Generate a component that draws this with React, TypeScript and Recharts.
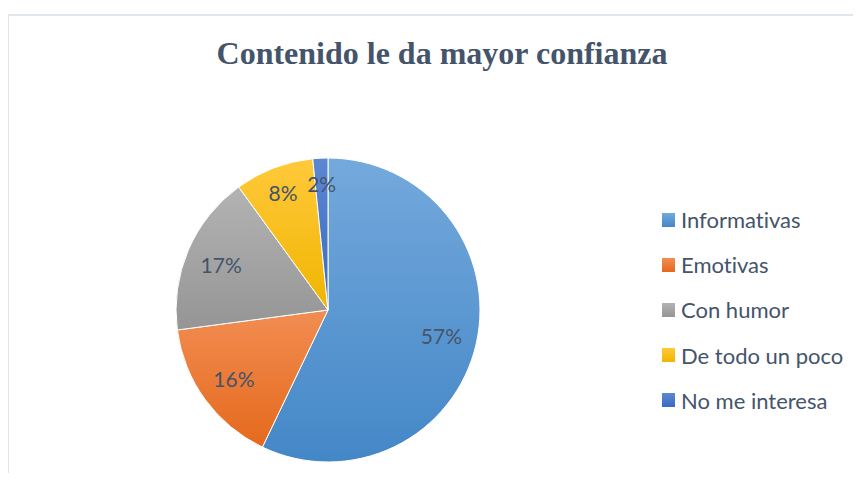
import { PieChart, Pie, Cell, Legend } from 'recharts';

// survey shares (percent)
const categories = ['Informativas', 'Emotivas', 'Con humor', 'De todo un poco', 'No me interesa'];
const shares = [57.1, 15.8, 17.1, 8.4, 1.6];

// top / bottom shades of each slice gradient
const topColors = ['#74a9dc', '#f18d52', '#b3b3b3', '#ffc93a', '#5d87d1'];
const bottomColors = ['#4487c7', '#e5691c', '#959595', '#f0b500', '#396ac1'];

const data = categories.map((name, i) => ({ name, value: shares[i] }));

const TEXT = '#44546A';
const FONT = 'Lato, "Open Sans", sans-serif';

const RADIAN = Math.PI / 180;

function renderLabel(props: any) {
  const { cx, cy, midAngle, outerRadius, percent } = props;
  const r = outerRadius * (percent < 0.1 ? 0.83 : 0.765);
  const x = cx + r * Math.cos(-midAngle * RADIAN);
  const y = cy + r * Math.sin(-midAngle * RADIAN);
  return (
    <text
      x={x}
      y={y}
      fill={TEXT}
      textAnchor="middle"
      dominantBaseline="central"
      style={{ fontFamily: FONT, fontSize: 21 }}
    >
      {`${Math.round(percent * 100)}%`}
    </text>
  );
}

function LegendBox() {
  return (
    <div style={{ fontFamily: FONT, fontVariantLigatures: 'none' }}>
      {categories.map((name, i) => (
        <div
          key={name}
          style={{ display: 'flex', alignItems: 'center', height: 45.2 }}
        >
          <span
            style={{
              display: 'inline-block',
              width: 13,
              height: 14,
              marginRight: 6,
              background: `linear-gradient(${topColors[i]}, ${bottomColors[i]})`,
            }}
          />
          <span style={{ fontSize: 22, color: TEXT }}>{name}</span>
        </div>
      ))}
    </div>
  );
}

export default function App() {
  return (
    <div
      style={{
        position: 'relative',
        width: 861,
        height: 481,
        margin: -8,
        overflow: 'hidden',
        background: '#fff',
      }}
    >
      <div
        style={{
          position: 'absolute',
          left: 7,
          top: 14,
          width: 900,
          height: 500,
          borderTop: '2px solid #e1e6ec',
          borderLeft: '2px solid #e1e6ec',
        }}
      />
      <div
        style={{
          position: 'absolute',
          left: 0,
          top: 37,
          width: 884,
          textAlign: 'center',
          fontFamily: '"Liberation Serif", "Times New Roman", serif',
          fontWeight: 'bold',
          fontSize: 32,
          lineHeight: '32px',
          color: TEXT,
        }}
      >
        Contenido le da mayor confianza
      </div>
      <div style={{ position: 'absolute', left: 0, top: 0 }}>
        <PieChart width={861} height={481} margin={{ top: 0, right: 0, bottom: 0, left: 0 }}>
          <defs>
            {categories.map((name, i) => (
              <linearGradient key={name} id={`grad${i}`} x1="0" y1="0" x2="0" y2="1">
                <stop offset="0%" stopColor={topColors[i]} />
                <stop offset="100%" stopColor={bottomColors[i]} />
              </linearGradient>
            ))}
          </defs>
          <Pie
            data={data}
            dataKey="value"
            nameKey="name"
            cx={328}
            cy={310}
            outerRadius={152}
            startAngle={90}
            endAngle={-270}
            stroke="#ffffff"
            strokeWidth={1}
            label={renderLabel}
            labelLine={false}
            isAnimationActive={false}
          >
            {data.map((d, i) => (
              <Cell key={d.name} fill={`url(#grad${i})`} />
            ))}
          </Pie>
          <Legend
            layout="vertical"
            content={<LegendBox />}
            wrapperStyle={{ position: 'absolute', left: 662, top: 197, width: 195 }}
          />
        </PieChart>
      </div>
    </div>
  );
}
